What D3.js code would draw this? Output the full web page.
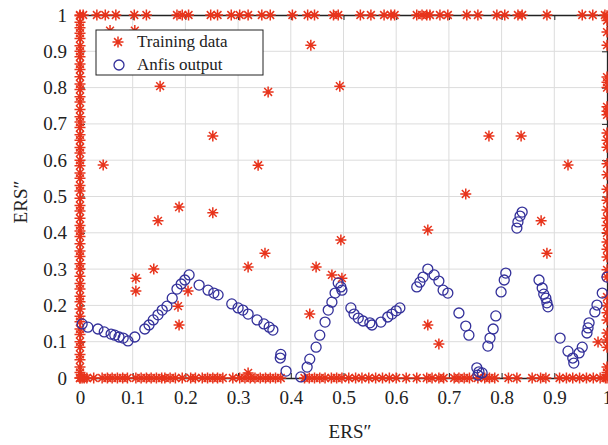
<!DOCTYPE html>
<html>
<head>
<meta charset="utf-8">
<script src="https://cdn.jsdelivr.net/npm/d3@7"></script>
<style>
  body { margin: 0; background: #fff; }
  svg { display: block; }
  text { font-family: 'Liberation Serif', 'Times New Roman', serif; fill: #222; }
</style>
</head>
<body>
<svg width="608" height="445"></svg>
<script>
// tick values / labels
var xTicks = [0, 0.1, 0.2, 0.3, 0.4, 0.5, 0.6, 0.7, 0.8, 0.9, 1]
var xTickLabels = ['0', '0.1', '0.2', '0.3', '0.4', '0.5', '0.6', '0.7', '0.8', '0.9', '1']
var yTicks = [0, 0.1, 0.2, 0.3, 0.4, 0.5, 0.6, 0.7, 0.8, 0.9, 1]
var yTickLabels = ['0', '0.1', '0.2', '0.3', '0.4', '0.5', '0.6', '0.7', '0.8', '0.9', '1']

// training data: points sitting on y = 1
var topRowX = [0, 0.006, 0.032, 0.048, 0.068, 0.103, 0.126, 0.184, 0.194, 0.206, 0.248, 0.261,
  0.287, 0.303, 0.319, 0.345, 0.361, 0.403, 0.432, 0.445, 0.481, 0.49, 0.532, 0.552, 0.577,
  0.59, 0.597, 0.639, 0.649, 0.658, 0.664, 0.683, 0.698, 0.734, 0.755, 0.791, 0.806, 0.831,
  0.839, 0.886, 0.953, 0.973, 0.996]
// training data: points sitting on y = 0
var bottomRowX = [0, 0.004, 0.008, 0.013, 0.026, 0.042, 0.052, 0.061, 0.071, 0.081, 0.09, 0.106,
  0.116, 0.126, 0.135, 0.145, 0.155, 0.161, 0.171, 0.181, 0.194, 0.21, 0.219, 0.232, 0.242,
  0.252, 0.261, 0.271, 0.29, 0.303, 0.313, 0.323, 0.332, 0.342, 0.352, 0.361, 0.371, 0.381,
  0.426, 0.435, 0.445, 0.455, 0.465, 0.477, 0.487, 0.497, 0.51, 0.523, 0.535, 0.548, 0.561,
  0.574, 0.587, 0.6, 0.619, 0.639, 0.658, 0.668, 0.681, 0.69, 0.71, 0.719, 0.729, 0.739,
  0.755, 0.768, 0.777, 0.787, 0.813, 0.829, 0.858, 0.874, 0.884, 0.91, 0.923, 0.935, 0.948,
  0.961, 0.974, 0.987, 0.997]
// training data: points sitting on x = 0
var leftColY = [0.998, 0.98, 0.965, 0.95, 0.935, 0.915, 0.9, 0.885, 0.865, 0.85, 0.83, 0.81,
  0.795, 0.775, 0.76, 0.74, 0.72, 0.705, 0.69, 0.67, 0.655, 0.635, 0.62, 0.6, 0.585, 0.565,
  0.55, 0.53, 0.515, 0.495, 0.475, 0.46, 0.44, 0.42, 0.405, 0.39, 0.37, 0.35, 0.335, 0.315,
  0.3, 0.28, 0.26, 0.245, 0.225, 0.21, 0.19, 0.17, 0.155, 0.135, 0.12, 0.1, 0.085, 0.065,
  0.05, 0.03, 0.015, 0]
// training data: points sitting on x = 1
var rightColY = [0.998, 0.985, 0.953, 0.917, 0.829, 0.815, 0.8, 0.747, 0.735, 0.725, 0.675,
  0.655, 0.636, 0.59, 0.56, 0.52, 0.49, 0.463, 0.44, 0.42, 0.4, 0.375, 0.355, 0.333, 0.298,
  0.278, 0.223, 0.2, 0.18, 0.16, 0.124, 0.105, 0.085, 0.03, 0.015, 0]
// training data: the scattered ones inside
var scatterX = [0.044, 0.152, 0.148, 0.188, 0.252, 0.252, 0.14, 0.106, 0.106, 0.186, 0.188, 0.205,
  0.319, 0.319, 0.338, 0.351, 0.357, 0.438, 0.493, 0.495, 0.448, 0.478, 0.497, 0.436, 0.66,
  0.66, 0.681, 0.732, 0.776, 0.837, 0.926, 0.875, 0.886, 0.983, 0.057, 0.104]
var scatterY = [0.587, 0.804, 0.433, 0.471, 0.667, 0.455, 0.3, 0.275, 0.24, 0.198, 0.146, 0.24,
  0.306, 0.014, 0.586, 0.344, 0.788, 0.917, 0.804, 0.38, 0.306, 0.284, 0.275, 0.176, 0.408,
  0.146, 0.094, 0.507, 0.667, 0.667, 0.587, 0.433, 0.344, 0.099, 0.957, 0.957]

// anfis output
var anfisX = [0.004, 0.015, 0.034, 0.046, 0.059, 0.066, 0.074, 0.082, 0.091, 0.104, 0.123, 0.131,
  0.139, 0.148, 0.156, 0.165, 0.175, 0.184, 0.192, 0.199, 0.207, 0.226, 0.243, 0.254, 0.262,
  0.288, 0.3, 0.309, 0.319, 0.336, 0.349, 0.359, 0.366, 0.381, 0.38, 0.391, 0.419, 0.431,
  0.436, 0.448, 0.455, 0.465, 0.471, 0.478, 0.484, 0.49, 0.495, 0.497, 0.514, 0.52, 0.528,
  0.537, 0.55, 0.554, 0.571, 0.584, 0.592, 0.6, 0.607, 0.639, 0.645, 0.651, 0.66, 0.672,
  0.681, 0.689, 0.698, 0.719, 0.732, 0.738, 0.753, 0.757, 0.763, 0.755, 0.774, 0.778, 0.784,
  0.789, 0.799, 0.805, 0.808, 0.829, 0.831, 0.835, 0.839, 0.871, 0.877, 0.88, 0.884, 0.886,
  0.888, 0.911, 0.926, 0.935, 0.937, 0.947, 0.953, 0.962, 0.964, 0.966, 0.977, 0.981, 0.991, 1]
var anfisY = [0.149, 0.14, 0.135, 0.127, 0.121, 0.118, 0.113, 0.11, 0.102, 0.113, 0.135, 0.146,
  0.16, 0.174, 0.187, 0.198, 0.22, 0.245, 0.259, 0.27, 0.284, 0.256, 0.242, 0.234, 0.229,
  0.204, 0.193, 0.187, 0.176, 0.16, 0.149, 0.14, 0.132, 0.065, 0.055, 0.019, 0.003, 0.03,
  0.052, 0.085, 0.118, 0.154, 0.187, 0.209, 0.234, 0.262, 0.251, 0.242, 0.193, 0.176, 0.165,
  0.157, 0.152, 0.146, 0.154, 0.168, 0.176, 0.185, 0.193, 0.251, 0.264, 0.278, 0.3, 0.284,
  0.267, 0.242, 0.234, 0.179, 0.143, 0.118, 0.028, 0.017, 0.014, 0.008, 0.088, 0.11, 0.135,
  0.171, 0.237, 0.27, 0.289, 0.413, 0.43, 0.446, 0.457, 0.27, 0.248, 0.231, 0.22, 0.207,
  0.196, 0.11, 0.074, 0.055, 0.041, 0.069, 0.085, 0.124, 0.138, 0.152, 0.182, 0.201, 0.234, 0.278]

var svg = d3.select('svg')
var margin = {top: 15, right: 1, bottom: 67, left: 80}
var width = 608
var height = 445
var red = '#e8341c'
var blue = '#33309a'

var x = d3.scaleLinear().domain([0, 1]).range([margin.left, width - margin.right])
var y = d3.scaleLinear().domain([0, 1]).range([height - margin.bottom, margin.top])

// grid
var grid = svg.append('g').attr('stroke', '#dcdcdc').attr('stroke-width', 1)
grid.selectAll('line.gx').data(xTicks.slice(1, -1)).enter().append('line')
  .attr('x1', d => x(d)).attr('x2', d => x(d))
  .attr('y1', y(0)).attr('y2', y(1))
grid.selectAll('line.gy').data(yTicks.slice(1, -1)).enter().append('line')
  .attr('y1', d => y(d)).attr('y2', d => y(d))
  .attr('x1', x(0)).attr('x2', x(1))

// axes (ticks point inward like matlab)
var styleAxis = g => {
  g.selectAll('.domain').attr('stroke', '#222').attr('stroke-width', 1.3)
  g.selectAll('.tick line').attr('stroke', '#222').attr('stroke-width', 1)
  g.selectAll('.tick text').style('font-size', '19px').attr('fill', '#222')
}
svg.append('g')
  .attr('transform', `translate(0, ${y(0)})`)
  .call(d3.axisBottom(x).tickValues(xTicks).tickFormat((d, i) => xTickLabels[i])
    .tickSizeInner(-5).tickSizeOuter(0).tickPadding(13))
  .call(styleAxis)
svg.append('g')
  .attr('transform', `translate(0, ${y(1)})`)
  .call(d3.axisTop(x).tickValues(xTicks).tickFormat('').tickSizeInner(-5).tickSizeOuter(0))
  .call(styleAxis)
svg.append('g')
  .attr('transform', `translate(${x(0)}, 0)`)
  .call(d3.axisLeft(y).tickValues(yTicks).tickFormat((d, i) => yTickLabels[i])
    .tickSizeInner(-5).tickSizeOuter(0).tickPadding(13))
  .call(styleAxis)
svg.append('g')
  .attr('transform', `translate(${x(1)}, 0)`)
  .call(d3.axisRight(y).tickValues(yTicks).tickFormat('').tickSizeInner(-5).tickSizeOuter(0))
  .call(styleAxis)

// build training points
var train = []
topRowX.forEach(v => train.push([v, 1]))
bottomRowX.forEach(v => train.push([v, 0]))
leftColY.forEach(v => train.push([0, v]))
rightColY.forEach(v => train.push([1, v]))
scatterX.forEach((v, i) => train.push([v, scatterY[i]]))

var star = 'M-5.5,0L5.5,0M0,-5.5L0,5.5M-3.9,-3.9L3.9,3.9M-3.9,3.9L3.9,-3.9'

svg.append('g')
  .selectAll('path').data(train).enter().append('path')
  .attr('d', star)
  .attr('transform', d => `translate(${x(d[0])}, ${y(d[1])})`)
  .attr('fill', 'none')
  .attr('stroke', red)
  .attr('stroke-width', 1.5)

svg.append('g')
  .selectAll('circle').data(anfisX).enter().append('circle')
  .attr('cx', d => x(d))
  .attr('cy', (d, i) => y(anfisY[i]))
  .attr('r', 5)
  .attr('fill', 'none')
  .attr('stroke', blue)
  .attr('stroke-width', 1.3)

// legend
var lg = svg.append('g').attr('transform', 'translate(96, 30)')
lg.append('rect').attr('width', 167).attr('height', 45)
  .attr('fill', '#fff').attr('stroke', '#222').attr('stroke-width', 1)
lg.append('path').attr('d', star).attr('transform', 'translate(22, 12)')
  .attr('fill', 'none').attr('stroke', red).attr('stroke-width', 1.5)
lg.append('circle').attr('cx', 23).attr('cy', 35).attr('r', 5)
  .attr('fill', 'none').attr('stroke', blue).attr('stroke-width', 1.3)
lg.append('text').attr('x', 41).attr('y', 17).style('font-size', '17px').text('Training data')
lg.append('text').attr('x', 41).attr('y', 40).style('font-size', '17px').text('Anfis output')

// axis labels
svg.append('text')
  .attr('x', 350).attr('y', 438)
  .attr('text-anchor', 'middle')
  .style('font-size', '19px')
  .text('ERS\u2033')
svg.append('text')
  .attr('transform', 'translate(27, 202) rotate(-90)')
  .attr('text-anchor', 'middle')
  .style('font-size', '19px')
  .text('ERS\u2033')
</script>
</body>
</html>
